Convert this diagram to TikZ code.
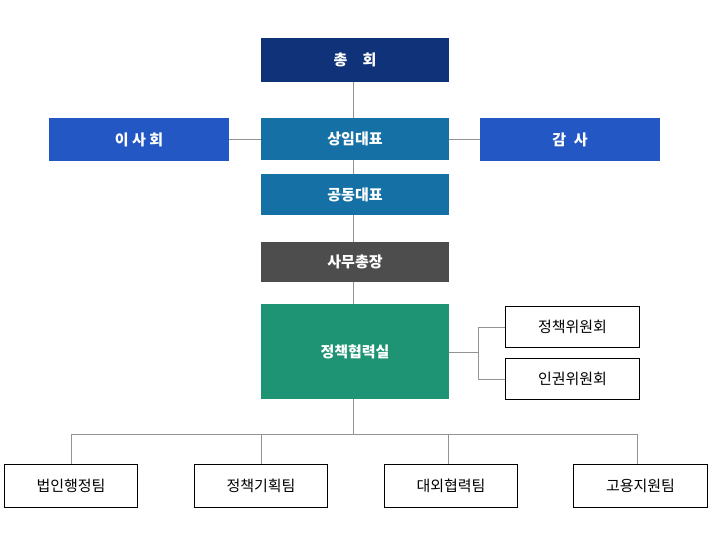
\documentclass[tikz,border=0pt]{standalone}
\usepackage{fontspec}
\setmainfont{Noto Sans CJK KR}
\begin{document}
\begin{tikzpicture}[x=1pt,y=-1pt,
  box/.style={draw=none,text=white,font=\bfseries\fontsize{15}{18}\selectfont,inner sep=0},
  wbox/.style={draw=black,line width=1pt,fill=white,text=black,font=\fontsize{15}{18}\selectfont,inner sep=0},
  ln/.style={draw=gray!85,line width=1pt}]
\useasboundingbox (0,0) rectangle (714,552);
\definecolor{navy}{HTML}{0F3278}\definecolor{bl}{HTML}{2257C4}
\definecolor{tb}{HTML}{1570A6}\definecolor{gr}{HTML}{4D4D4D}\definecolor{gn}{HTML}{1F9474}
\newcommand{\bx}[7]{\node[#7,fill=#6,minimum width=#4,minimum height=#5] (#1) at (#2,#3) {};}
% lines
\coordinate (t) at (353,82); \coordinate (b) at (353,304);
\draw[ln] (t) -- (b);
\coordinate (l) at (229,139); \coordinate (r) at (480,139);
\draw[ln] (l) -- (r);
\coordinate (p1) at (449,352); \coordinate (p2) at (478,352);
\coordinate (q1) at (478,327); \coordinate (q2) at (478,379);
\coordinate (q3) at (505,327); \coordinate (q4) at (505,379);
\draw[ln] (p1)--(p2) (q1)--(q2) (q1)--(q3) (q2)--(q4);
\coordinate (s1) at (353,399); \coordinate (s2) at (353,434);
\coordinate (h1) at (71,434); \coordinate (h2) at (637,434);
\draw[ln] (s1)--(s2) (h1)--(h2);
\foreach \x in {71,261,448,637}{\draw[ln] (\x,434)--(\x,464);}
% boxes
\node[box,fill=navy,minimum width=188,minimum height=44] (a) at (355,60) {총\quad 회};
\node[box,fill=bl,minimum width=180,minimum height=43] (isa) at (139,139.5) {이 사 회};
\node[box,fill=tb,minimum width=188,minimum height=42] (sd) at (355,139) {상임대표};
\node[box,fill=bl,minimum width=180,minimum height=43] (gs) at (570,139.5) {감\enspace 사};
\node[box,fill=tb,minimum width=188,minimum height=41] (gd) at (355,194.5) {공동대표};
\node[box,fill=gr,minimum width=188,minimum height=40] (sm) at (355,262) {사무총장};
\node[box,fill=gn,minimum width=188,minimum height=95] (jc) at (355,351.5) {정책협력실};
\node[wbox,minimum width=134,minimum height=41] (w1) at (572.5,327) {정책위원회};
\node[wbox,minimum width=134,minimum height=41] (w2) at (572.5,379) {인권위원회};
\node[wbox,minimum width=133,minimum height=43] (t1) at (71,486) {법인행정팀};
\node[wbox,minimum width=133,minimum height=43] (t2) at (261,486) {정책기획팀};
\node[wbox,minimum width=133,minimum height=43] (t3) at (451,486) {대외협력팀};
\node[wbox,minimum width=134,minimum height=43] (t4) at (640.5,486) {고용지원팀};
\end{tikzpicture}
\end{document}
